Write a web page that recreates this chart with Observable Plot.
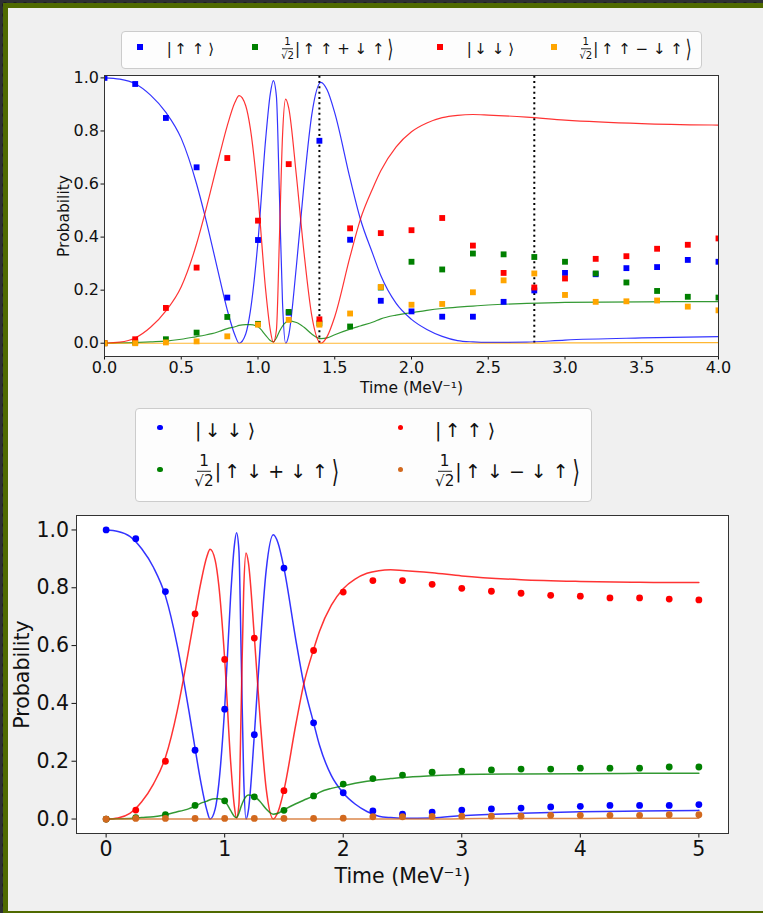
<!DOCTYPE html>
<html>
<head>
<meta charset="utf-8">
<script src="https://cdn.jsdelivr.net/npm/d3@7"></script>
<script src="https://cdn.jsdelivr.net/npm/@observablehq/plot@0.6"></script>
<style>
  html, body { margin: 0; padding: 0; }
  body { background: #2b2d30; }
  #page { position: relative; width: 763px; height: 913px; overflow: hidden;
    background: #2e3033 radial-gradient(circle at 5px 5px, #1d1e20 2.6px, transparent 3.2px) 0 0 / 10px 10px; }
  #inner { position: absolute; left: 3px; top: 3px; width: 760px; height: 910px; box-sizing: border-box;
    background: #f0f0f0; border-left: 5px solid #4f6a00; border-top: 5px solid #4f6a00; border-bottom: 2px solid #4f6a00; }
  .chart { position: absolute; left: 0; }
  .legbox { position: absolute; background: rgba(255,255,255,0.85); border: 1px solid #cccccc; border-radius: 4px; box-sizing: border-box; }
  .mk { position: absolute; }
  .lbl { position: absolute; display: flex; align-items: center; white-space: pre; font-family: "DejaVu Sans", sans-serif; color: #111; transform: translateY(-50%); }
  .frac { display: inline-flex; flex-direction: column; align-items: center; line-height: 1.1; margin-right: 1px; }
  .frac .num { border-bottom: 1px solid #222; padding: 0 2px 1px 2px; }
  .frac .den { padding-top: 1px; }
  .bar { margin-right: 0.17em; }
  .ang { display: inline-block; margin-left: 0.27em; }
  .ang.big { transform: scaleY(1.6); margin-left: 0.2em; }
</style>
</head>
<body>
<div id="page">
  <div id="inner"></div>
</div>
<script>
// ---------------- data ----------------
// Top chart: measured points every 0.2 MeV^-1
const topTimes = [0, 0.2, 0.4, 0.6, 0.8, 1.0, 1.2, 1.4, 1.6, 1.8, 2.0, 2.2, 2.4, 2.6, 2.8, 3.0, 3.2, 3.4, 3.6, 3.8, 4.0];
const topUpUp        = [1.0, 0.977, 0.849, 0.663, 0.172, 0.389, 0.115, 0.763, 0.39, 0.16, 0.12, 0.10, 0.10, 0.156, 0.199, 0.265, 0.26, 0.283, 0.287, 0.314, 0.307];
const topSymPlus     = [0.0, 0.003, 0.015, 0.04, 0.099, 0.073, 0.118, 0.075, 0.063, 0.21, 0.307, 0.278, 0.338, 0.335, 0.325, 0.307, 0.263, 0.229, 0.197, 0.175, 0.172];
const topDownDown    = [0.0, 0.015, 0.133, 0.285, 0.698, 0.462, 0.675, 0.09, 0.433, 0.415, 0.426, 0.472, 0.368, 0.265, 0.21, 0.244, 0.318, 0.328, 0.356, 0.371, 0.395];
const topAntiMinus   = [0.0, 0.0, 0.003, 0.007, 0.026, 0.07, 0.088, 0.07, 0.112, 0.212, 0.145, 0.148, 0.192, 0.237, 0.263, 0.182, 0.156, 0.158, 0.161, 0.138, 0.124];
const markerTimes = [1.4, 2.8];
const startTime = [0];

// Bottom chart: measured points every 0.25 MeV^-1
const botTimes = [0, 0.25, 0.5, 0.75, 1.0, 1.25, 1.5, 1.75, 2.0, 2.25, 2.5, 2.75, 3.0, 3.25, 3.5, 3.75, 4.0, 4.25, 4.5, 4.75, 5.0];
const botDownDown  = [1.0, 0.97, 0.787, 0.238, 0.38, 0.292, 0.868, 0.333, 0.091, 0.028, 0.017, 0.024, 0.031, 0.035, 0.038, 0.042, 0.044, 0.047, 0.047, 0.047, 0.05];
const botUpUp      = [0.0, 0.031, 0.2, 0.71, 0.552, 0.626, 0.098, 0.583, 0.785, 0.825, 0.825, 0.812, 0.798, 0.788, 0.781, 0.774, 0.771, 0.765, 0.765, 0.761, 0.758];
const botSymPlus   = [0.0, 0.005, 0.015, 0.047, 0.063, 0.077, 0.03, 0.08, 0.121, 0.14, 0.152, 0.162, 0.166, 0.17, 0.173, 0.173, 0.176, 0.176, 0.176, 0.18, 0.18];
const botAntiMinus = [0.0, 0.002, 0.002, 0.002, 0.002, 0.002, 0.002, 0.002, 0.003, 0.008, 0.008, 0.009, 0.01, 0.01, 0.01, 0.013, 0.013, 0.013, 0.013, 0.015, 0.015];

// Theory curves (shared by both panels)
const curveTimes   = [0, 0.1, 0.2, 0.3, 0.4, 0.5, 0.6, 0.65, 0.7, 0.75, 0.8, 0.85, 0.877, 0.92, 0.95, 1.0, 1.05, 1.08, 1.1, 1.12, 1.14, 1.16, 1.18, 1.2, 1.25, 1.3, 1.35, 1.41, 1.45, 1.5, 1.6, 1.666, 1.75, 1.8, 1.9, 2.0, 2.1, 2.2, 2.3, 2.4, 2.5, 2.75, 3.0, 3.5, 4.0, 4.5, 5.0];
const curveInitial = [1.0, 0.995, 0.978, 0.935, 0.87, 0.772, 0.6, 0.49, 0.37, 0.245, 0.125, 0.03, 0.0, 0.035, 0.12, 0.385, 0.77, 0.94, 0.99, 0.93, 0.55, 0.15, 0.0, 0.03, 0.29, 0.6, 0.86, 0.983, 0.955, 0.868, 0.62, 0.47, 0.333, 0.255, 0.15, 0.09, 0.052, 0.026, 0.01, 0.005, 0.003, 0.004, 0.012, 0.02, 0.025, 0.028, 0.03];
const curveFlipped = [0.0, 0.004, 0.02, 0.06, 0.122, 0.213, 0.375, 0.48, 0.594, 0.71, 0.82, 0.908, 0.933, 0.895, 0.81, 0.553, 0.2, 0.05, 0.003, 0.05, 0.405, 0.785, 0.92, 0.887, 0.632, 0.34, 0.105, 0.0, 0.025, 0.1, 0.327, 0.465, 0.587, 0.65, 0.74, 0.797, 0.83, 0.85, 0.859, 0.862, 0.86, 0.852, 0.841, 0.828, 0.822, 0.819, 0.818];
const curveSym     = [0.0, 0.001, 0.002, 0.005, 0.008, 0.015, 0.025, 0.03, 0.036, 0.045, 0.055, 0.062, 0.067, 0.07, 0.07, 0.062, 0.03, 0.01, 0.005, 0.02, 0.045, 0.065, 0.078, 0.083, 0.078, 0.06, 0.035, 0.017, 0.02, 0.032, 0.053, 0.065, 0.08, 0.092, 0.106, 0.115, 0.124, 0.131, 0.136, 0.14, 0.144, 0.15, 0.154, 0.156, 0.157, 0.158, 0.158];
const curveAnti    = [0, 0, 0, 0, 0, 0, 0, 0, 0, 0, 0, 0, 0, 0, 0, 0, 0, 0, 0, 0, 0, 0, 0, 0, 0, 0, 0, 0, 0, 0, 0, 0, 0, 0, 0, 0, 0, 0, 0, 0, 0, 0, 0.001, 0.002, 0.002, 0.003, 0.003];

const topLegendLabels = ["|↑ ↑⟩", "1/√2|↑ ↑ + ↓ ↑⟩", "|↓ ↓⟩", "1/√2|↑ ↑ − ↓ ↑⟩"];
const botLegendLabels = ["|↓ ↓⟩", "|↑ ↑⟩", "1/√2|↑ ↓ + ↓ ↑⟩", "1/√2|↑ ↓ − ↓ ↑⟩"];
const topColors = ["#0000ff", "#008000", "#ff0000", "#ffa500"];
const botColors = ["#0000ff", "#ff0000", "#008000", "#d2691e"];
const topXTicks = [0, 0.5, 1.0, 1.5, 2.0, 2.5, 3.0, 3.5, 4.0];
const topYTicks = [0, 0.2, 0.4, 0.6, 0.8, 1.0];
const botXTicks = [0, 1, 2, 3, 4, 5];
const botYTicks = [0, 0.2, 0.4, 0.6, 0.8, 1.0];
const xTitle = "Time (MeV⁻¹)";
const yTitle = "Probability";

// ---------------- helpers ----------------
const rows = (xs, ys) => xs.map((t, i) => ({t, v: ys[i]}));
const page = document.getElementById("page");
const f1 = d3.format(".1f");

// ---------------- top chart ----------------
const topSeries = [topUpUp, topSymPlus, topDownDown, topAntiMinus];
const topCurves = [curveInitial, curveSym, curveFlipped, curveAnti];
const topMarks = [
  Plot.frame({fill: "white"}),
  Plot.ruleX(startTime, {y1: 0, y2: 1.0, stroke: "black", strokeWidth: 1, strokeDasharray: "1,1.65"}),
  Plot.ruleX(markerTimes, {y1: 0, y2: 1.009, stroke: "black", strokeWidth: 2, strokeDasharray: "2,3.3"})
];
topCurves.forEach((c, i) => topMarks.push(Plot.line(rows(curveTimes, c), {x: "t", y: "v", stroke: topColors[i], strokeWidth: 1.2, strokeOpacity: 0.8, curve: "monotone-x", clip: true})));
topSeries.forEach((s, i) => topMarks.push(Plot.dot(rows(topTimes, s), {x: "t", y: "v", symbol: "square", r: 3.3, fill: topColors[i], clip: true})));
topMarks.push(Plot.frame({stroke: "#333", strokeWidth: 1}));
topMarks.push(Plot.text([xTitle], {frameAnchor: "bottom", dy: 32, fontSize: 15.5, textAnchor: "middle", lineAnchor: "middle", fill: "#111"}));
topMarks.push(Plot.text([yTitle], {frameAnchor: "left", dx: -40, rotate: -90, fontSize: 15.5, textAnchor: "middle", lineAnchor: "middle", fill: "#111"}));

const topPlot = Plot.plot({
  width: 763, height: 400,
  marginLeft: 104, marginRight: 45, marginTop: 75, marginBottom: 44,
  style: {background: "transparent", fontFamily: "DejaVu Sans, sans-serif", fontSize: "16px", color: "#111", overflow: "visible"},
  x: {domain: [0, 4], ticks: topXTicks, tickFormat: f1, tickSize: 3.5, tickPadding: 2, label: null},
  y: {domain: [-0.05, 1.009], ticks: topYTicks, tickFormat: f1, tickSize: 3.5, tickPadding: 2, label: null},
  marks: topMarks
});
topPlot.classList.add("chart");
topPlot.style.top = "0px";
page.appendChild(topPlot);

// ---------------- bottom chart ----------------
const botSeries = [botDownDown, botUpUp, botSymPlus, botAntiMinus];
const botCurves = [curveInitial, curveFlipped, curveSym, curveAnti];
const botMarks = [Plot.frame({fill: "white"})];
botCurves.forEach((c, i) => {
  botMarks.push(Plot.line(rows(curveTimes, c), {x: "t", y: "v", stroke: botColors[i], strokeWidth: 1.5, strokeOpacity: 0.8, curve: "monotone-x"}));
});
botSeries.forEach((s, i) => botMarks.push(Plot.dot(rows(botTimes, s), {x: "t", y: "v", r: 3.4, fill: botColors[i]})));
botMarks.push(Plot.frame({stroke: "#333", strokeWidth: 1}));
botMarks.push(Plot.text([xTitle], {frameAnchor: "bottom", dy: 43, fontSize: 20.5, textAnchor: "middle", lineAnchor: "middle", fill: "#111"}));
botMarks.push(Plot.text([yTitle], {frameAnchor: "left", dx: -54, rotate: -90, fontSize: 20.5, textAnchor: "middle", lineAnchor: "middle", fill: "#111"}));

const botPlot = Plot.plot({
  width: 763, height: 400,
  marginLeft: 76, marginRight: 35, marginTop: 15, marginBottom: 67,
  style: {background: "transparent", fontFamily: "DejaVu Sans, sans-serif", fontSize: "20.5px", color: "#111", overflow: "visible"},
  x: {domain: [-0.25, 5.25], ticks: botXTicks, tickFormat: d3.format("d"), tickSize: 4.5, tickPadding: 3, label: null},
  y: {domain: [-0.05, 1.05], ticks: botYTicks, tickFormat: f1, tickSize: 4.5, tickPadding: 3, label: null},
  marks: botMarks
});
botPlot.classList.add("chart");
botPlot.style.top = "500px";
page.appendChild(botPlot);

// ---------------- legends ----------------
function ketHTML(label, fracScale) {
  const frac = label.startsWith("1/√2");
  const body = frac ? label.slice(4) : label;
  const core = body.slice(1, -1);
  return (frac ? '<span class="frac" style="font-size:' + fracScale + 'em"><span class="num">1</span><span class="den">√2</span></span>' : '') +
    '<span class="bar">|</span><span class="core">' + core + '</span><span class="ang' + (frac ? ' big' : '') + '">⟩</span>';
}
function addBox(l, t, w, h) {
  const b = document.createElement("div");
  b.className = "legbox";
  Object.assign(b.style, {left: l + "px", top: t + "px", width: w + "px", height: h + "px"});
  page.appendChild(b);
}
function addMarker(cx, cy, size, color, round) {
  const m = document.createElement("div");
  m.className = "mk";
  Object.assign(m.style, {left: (cx - size / 2) + "px", top: (cy - size / 2) + "px", width: size + "px", height: size + "px", background: color, borderRadius: round ? "50%" : "0"});
  page.appendChild(m);
}
function addLabel(x, cy, label, fontSize, fracScale) {
  const s = document.createElement("div");
  s.className = "lbl";
  s.innerHTML = ketHTML(label, fracScale);
  Object.assign(s.style, {left: x + "px", top: cy + "px", fontSize: fontSize + "px"});
  page.appendChild(s);
}

addBox(121, 31, 581, 38);
const topMarkX = [140.3, 255.3, 440, 554];
const topLabelX = [166.7, 281, 466.7, 579.3];
topLegendLabels.forEach((lab, i) => {
  addMarker(topMarkX[i], 47.3, 6, topColors[i], false);
  addLabel(topLabelX[i], 49, lab, 15, 0.68);
});

addBox(135, 408, 457, 94);
const botMarkX = [160, 400.7, 160, 400.7];
const botMarkY = [427.7, 427.7, 469.7, 469.7];
const botLabelX = [195, 435, 194.3, 435];
const botLabelY = [430, 430, 471, 471];
botLegendLabels.forEach((lab, i) => {
  addMarker(botMarkX[i], botMarkY[i], 5.5, botColors[i], true);
  addLabel(botLabelX[i], botLabelY[i], lab, 19, 0.8);
});
</script>
</body>
</html>
